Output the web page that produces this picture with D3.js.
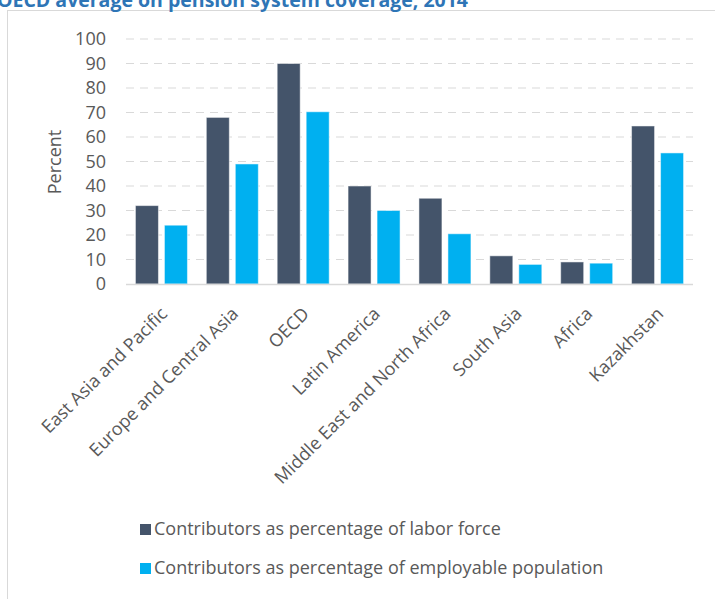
<!DOCTYPE html>
<html>
<head>
<meta charset="utf-8">
<script src="https://cdn.jsdelivr.net/npm/d3@7"></script>
<style>
  html, body { margin: 0; padding: 0; background: #fff; }
  svg { display: block; }
  text { font-family: "Open Sans", "Noto Sans", sans-serif; }
</style>
</head>
<body>
<svg id="chart" width="715" height="599"></svg>
<script>
// Pension system coverage by region, 2014
const regions = ["East Asia and Pacific", "Europe and Central Asia", "OECD", "Latin America",
  "Middle East and North Africa", "South Asia", "Africa", "Kazakhstan"];
const laborForce = [32, 68, 90, 40, 35, 11.5, 9, 64.5];
const employablePop = [24, 49, 70.3, 30, 20.5, 8, 8.5, 53.5];
const seriesNames = ["Contributors as percentage of labor force",
  "Contributors as percentage of employable population"];
const yTicks = [0, 10, 20, 30, 40, 50, 60, 70, 80, 90, 100];

const colors = ["#44546A", "#00B0F0"];
const textColor = "#595959";
const svg = d3.select("#chart");

// outer frame
svg.append("rect").attr("x", 7.5).attr("y", 10.5).attr("width", 720).attr("height", 600)
  .attr("fill", "none").attr("stroke", "#D9D9D9").attr("stroke-width", 1);

// title
svg.append("text").attr("x", -3).attr("y", 7)
  .attr("font-size", 19.5).attr("font-weight", "bold").attr("fill", "#2E75B6")
  .text("OECD average on pension system coverage, 2014");

const plot = { left: 126, right: 693, top: 39, bottom: 284 };
const x = d3.scaleBand().domain(regions).range([plot.left, plot.right]);
const y = d3.scaleLinear().domain([0, 100]).range([plot.bottom, plot.top]);

// grid lines
svg.append("g").selectAll("line").data(yTicks.filter(d => d > 0)).join("line")
  .attr("x1", plot.left).attr("x2", plot.right)
  .attr("y1", d => y(d)).attr("y2", d => y(d))
  .attr("stroke", "#D9D9D9").attr("stroke-width", 1).attr("stroke-dasharray", "8,6");

// y axis labels
const yAxis = d3.axisLeft(y).tickValues(yTicks).tickSize(0).tickPadding(0);
const gy = svg.append("g").attr("transform", "translate(106,0)").call(yAxis);
gy.select(".domain").remove();
gy.selectAll("text").attr("font-size", 18).attr("fill", textColor)
  .attr("font-family", "'Open Sans', sans-serif");

// y axis title
svg.append("text").attr("transform", "translate(61,162) rotate(-90)")
  .attr("text-anchor", "middle").attr("font-size", 18).attr("fill", textColor).text("Percent");

// bars
const barW = 23, gap = 6;
const groups = svg.append("g").selectAll("g").data(regions).join("g");
groups.append("rect")
  .attr("x", d => x(d) + x.bandwidth() / 2 - gap / 2 - barW)
  .attr("y", (d, i) => y(laborForce[i]))
  .attr("width", barW)
  .attr("height", (d, i) => y(0) - y(laborForce[i]))
  .attr("fill", colors[0]).attr("stroke", "#fff").attr("stroke-opacity", 0.5).attr("stroke-width", 1);
groups.append("rect")
  .attr("x", d => x(d) + x.bandwidth() / 2 + gap / 2)
  .attr("y", (d, i) => y(employablePop[i]))
  .attr("width", barW)
  .attr("height", (d, i) => y(0) - y(employablePop[i]))
  .attr("fill", colors[1]).attr("stroke", "#fff").attr("stroke-opacity", 0.5).attr("stroke-width", 1);

// baseline
svg.append("line").attr("x1", plot.left).attr("x2", plot.right)
  .attr("y1", y(0) + 0.5).attr("y2", y(0) + 0.5)
  .attr("stroke", "#D9D9D9").attr("stroke-width", 1.5);

// category labels, rotated 45 degrees
const xAxis = d3.axisBottom(x).tickSize(0).tickPadding(0);
const gx = svg.append("g").attr("transform", `translate(0,${y(0)})`).call(xAxis);
gx.select(".domain").remove();
gx.selectAll("text")
  .attr("font-size", 18).attr("fill", textColor)
  .attr("font-family", "'Open Sans', sans-serif")
  .attr("text-anchor", "end")
  .attr("dy", null).attr("y", 0)
  .attr("transform", "translate(7,31) rotate(-45)");

// legend
const legend = svg.append("g").selectAll("g").data(seriesNames).join("g")
  .attr("transform", (d, i) => `translate(140,${535 + i * 39})`);
legend.append("rect").attr("width", 11).attr("height", 11).attr("y", -11)
  .attr("fill", (d, i) => colors[i]);
legend.append("text").attr("x", 14).attr("y", 0).attr("font-size", 18).attr("fill", textColor)
  .text(d => d);
</script>
</body>
</html>
